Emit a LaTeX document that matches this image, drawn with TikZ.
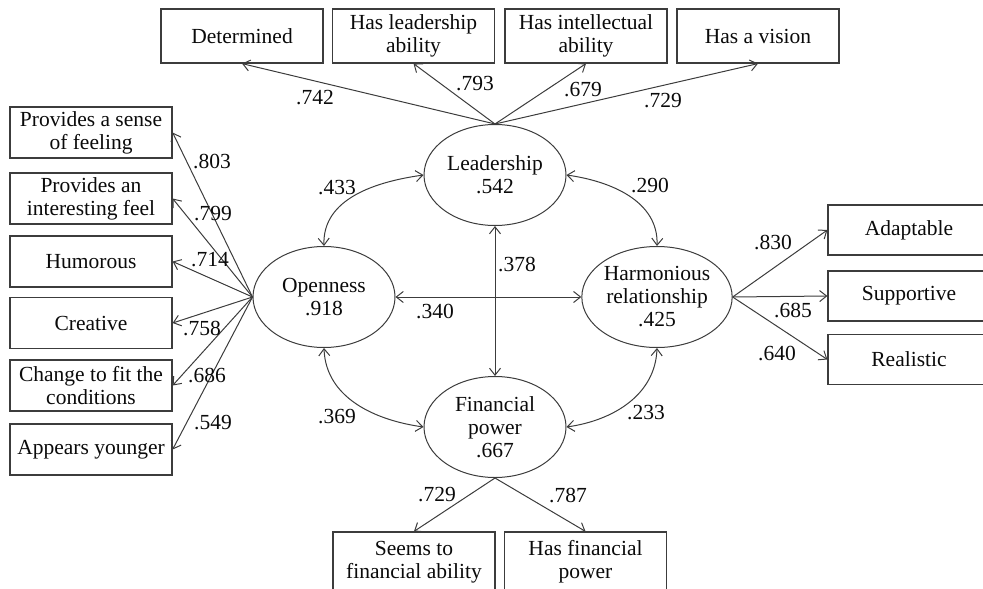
\documentclass[tikz,border=0pt]{standalone}
\usepackage{fontspec}
\setmainfont{Liberation Serif}
\usetikzlibrary{arrows.meta,positioning,shapes.geometric}
\definecolor{lineGray}{RGB}{60,60,60}
\definecolor{txtBlack}{RGB}{10,10,10}

\tikzset{
  lbl/.style={font=\fontsize{21.5}{23}\selectfont, text=txtBlack},
  indbox/.style={lbl, draw=lineGray, line width=1.2pt, minimum width=162pt,
    minimum height=51pt, inner sep=0pt, align=center},
  latent/.style={lbl, ellipse, draw=lineGray, line width=1pt, minimum width=142pt,
    minimum height=101pt, inner sep=0pt, align=center},
  coef/.style={lbl, inner sep=0pt},
  load/.style={draw=lineGray, line width=1pt, -{Straight Barb[length=7pt,width=11pt]}},
  cov/.style={draw=lineGray, line width=1pt,
    {Straight Barb[length=7pt,width=11pt]}-{Straight Barb[length=7pt,width=11pt]}}
}

\begin{document}
\begin{tikzpicture}[x=1pt, y=-1pt]
    \useasboundingbox (0,0) rectangle (983,589);
    % Latent factors
    \node[latent] (lead) at (495,175) {Leadership\\.542};
    \node[latent] (open) at (324,297) {Openness\\.918};
    \node[latent] (harm) at (657,297) {Harmonious\\relationship\\.425};
    \node[latent] (fin) at (495,427) {Financial\\power\\.667};
    % Indicators of Leadership
    \node[indbox, minimum height=54pt] (det) at (242,36) {Determined};
    \node[indbox, minimum height=54pt] (hla) at (413.5,36) {Has leadership\\ability};
    \node[indbox, minimum height=54pt] (hia) at (586,36) {Has intellectual\\ability};
    \node[indbox, minimum height=54pt] (hav) at (758,36) {Has a vision};
    % Indicators of Openness
    \node[indbox] (sens) at (91,132.5) {Provides a sense\\of feeling};
    \node[indbox] (intr) at (91,198.5) {Provides an\\interesting feel};
    \node[indbox] (humr) at (91,261.5) {Humorous};
    \node[indbox] (crea) at (91,323) {Creative};
    \node[indbox] (chng) at (91,385.5) {Change to fit the\\conditions};
    \node[indbox] (youn) at (91,449.5) {Appears younger};
    % Indicators of Harmonious relationship
    \node[indbox, minimum height=50pt] (adap) at (909,230) {Adaptable};
    \node[indbox, minimum height=50pt] (supp) at (909,296) {Supportive};
    \node[indbox, minimum height=50pt] (real) at (909,359.5) {Realistic};
    % Indicators of Financial power
    \node[indbox, minimum height=60pt] (sfa) at (414,562) {Seems to\\financial ability};
    \node[indbox, minimum height=60pt] (hfp) at (585.5,562) {Has financial\\power};

    % Loadings
    \draw[load] (lead.north) -- (det.south);
    \draw[load] (lead.north) -- (hla.south);
    \draw[load] (lead.north) -- (hia.south);
    \draw[load] (lead.north) -- (hav.south);
    \foreach \b in {sens,intr,humr,crea,chng,youn}
      \draw[load] (open.west) -- (\b.east);
    \foreach \b in {adap,supp,real}
      \draw[load] (harm.east) -- (\b.west);
    \draw[load] (fin.south) -- (sfa.north);
    \draw[load] (fin.south) -- (hfp.north);

    % Correlations
    \draw[cov] (open.north) to[out=92, in=188] (lead.west);
    \draw[cov] (lead.east) to[out=-8, in=88] (harm.north);
    \draw[cov] (open.south) to[out=-88, in=172] (fin.west);
    \draw[cov] (harm.south) to[out=-92, in=8] (fin.east);
    \draw[cov] (open.east) -- (harm.west);
    \draw[cov] (lead.south) -- (fin.north);

    % Coefficients
    \node[coef] (c742) at (315,98) {.742};
    \node[coef] (c793) at (475,84) {.793};
    \node[coef] (c679) at (583,90) {.679};
    \node[coef] (c729) at (663,101) {.729};
    \node[coef] (c803) at (212,162) {.803};
    \node[coef] (c799) at (213,214) {.799};
    \node[coef] (c714) at (210,260) {.714};
    \node[coef] (c758) at (202,328) {.758};
    \node[coef] (c686) at (207,375) {.686};
    \node[coef] (c549) at (213,423) {.549};
    \node[coef] (c830) at (773,243) {.830};
    \node[coef] (c685) at (793,310) {.685};
    \node[coef] (c640) at (777,353) {.640};
    \node[coef] (c433) at (337,188) {.433};
    \node[coef] (c290) at (650,186) {.290};
    \node[coef] (c378) at (517,265) {.378};
    \node[coef] (c340) at (435,312) {.340};
    \node[coef] (c369) at (337,417) {.369};
    \node[coef] (c233) at (646,413) {.233};
    \node[coef] (cf729) at (437,495) {.729};
    \node[coef] (c787) at (568,495) {.787};
\end{tikzpicture}
\end{document}
